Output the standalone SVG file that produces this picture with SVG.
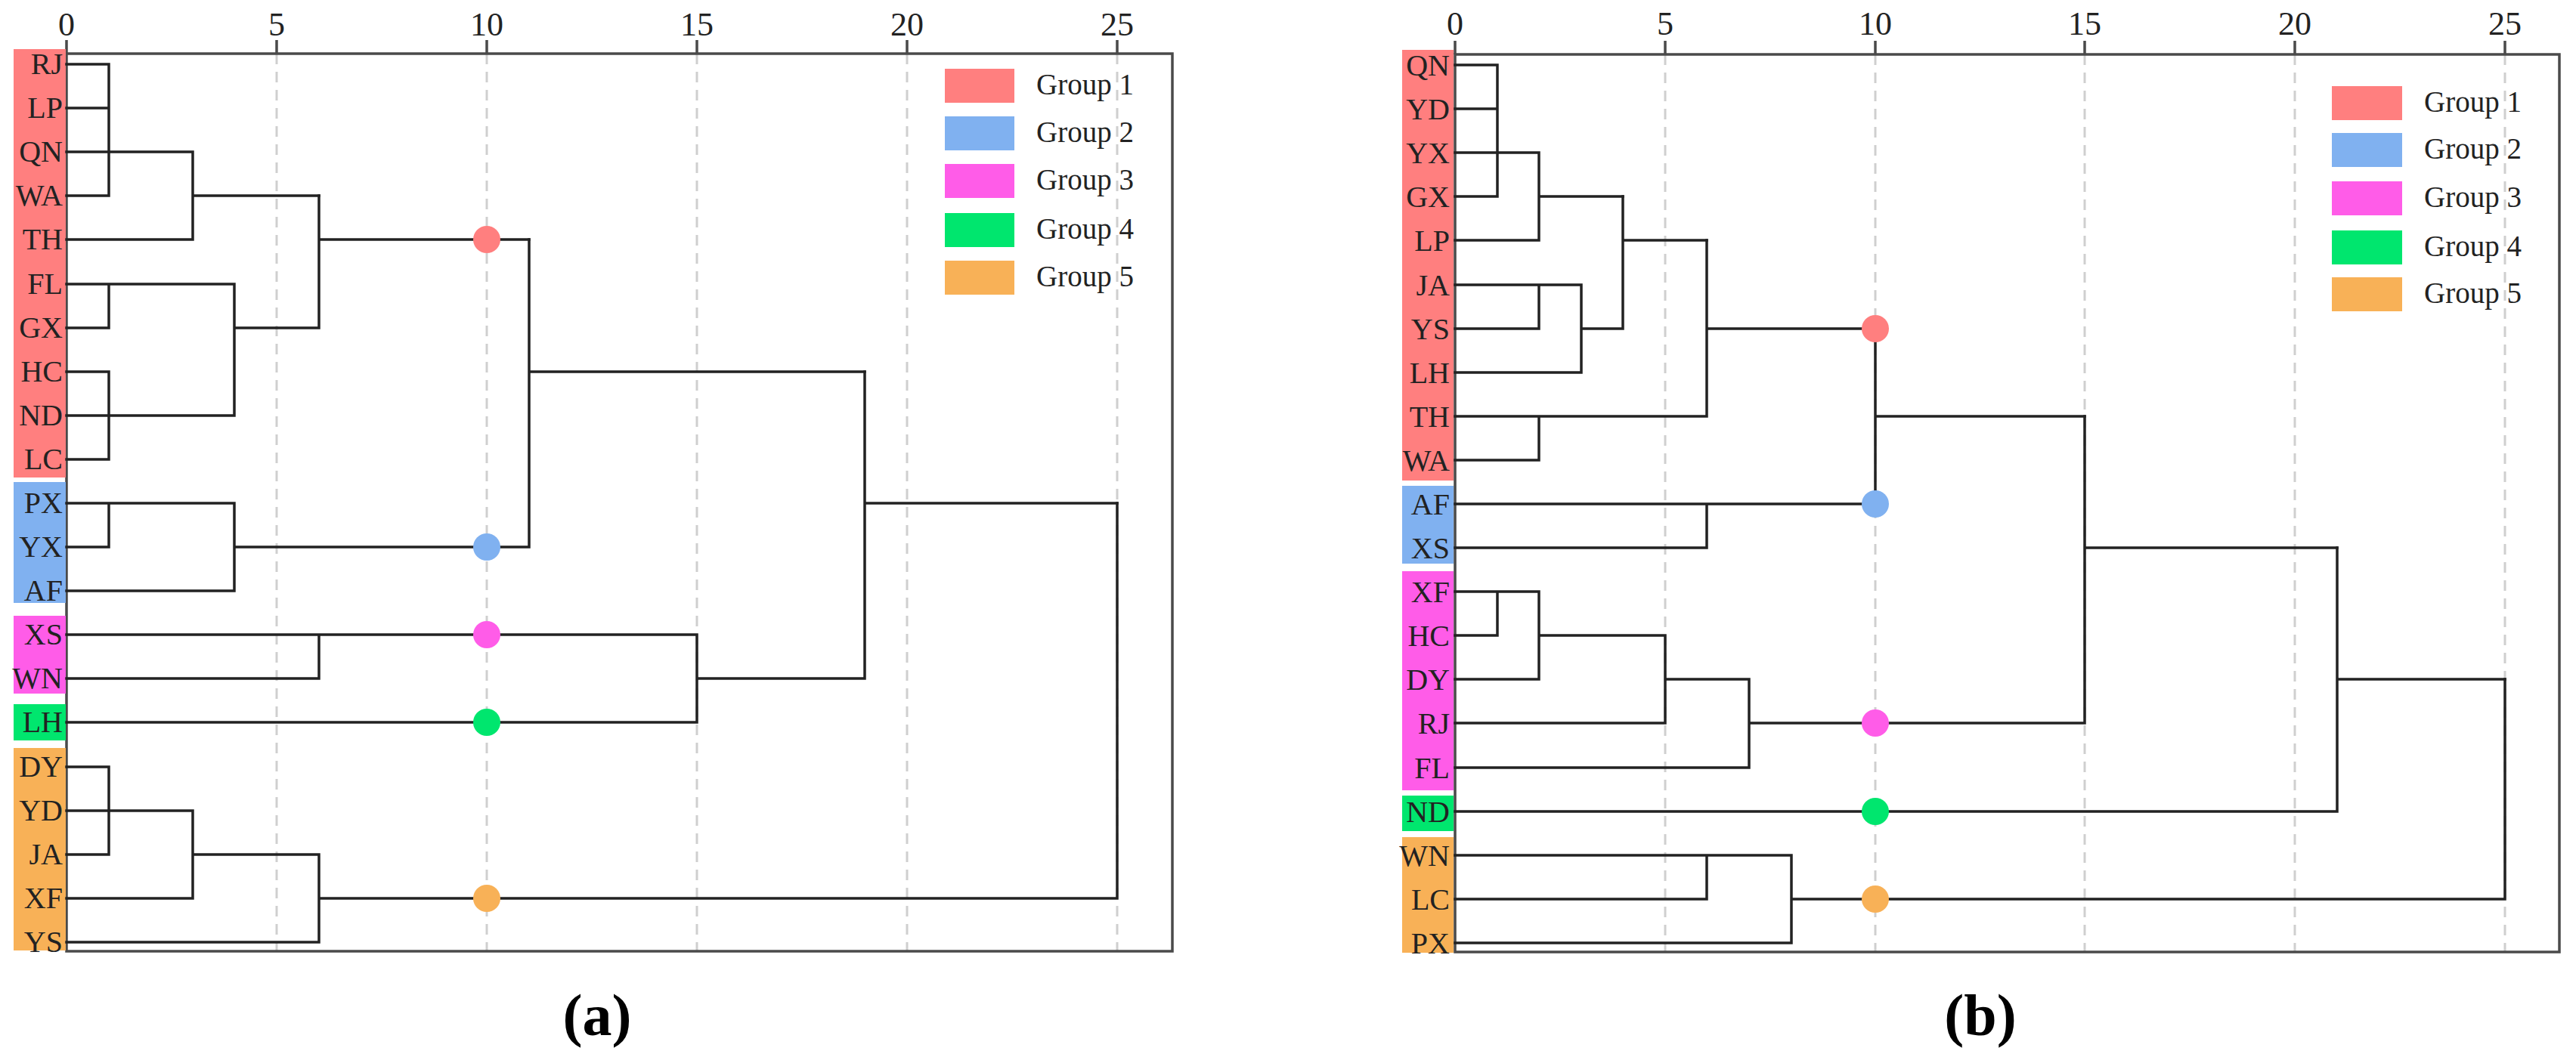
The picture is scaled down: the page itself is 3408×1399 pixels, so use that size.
<svg xmlns="http://www.w3.org/2000/svg" width="3408" height="1399" viewBox="0 0 3408 1399">
<style>
.bg{fill:#ffffff}
.frame{fill:none;stroke:#4a4a4a;stroke-width:3.5}
.grid{stroke:#cfcfcf;stroke-width:3;stroke-dasharray:14 10}
.den{fill:none;stroke:#222;stroke-width:3.5;stroke-linecap:square}
.tick{font-family:"Liberation Serif","Times New Roman",serif;font-size:44px;fill:#222;text-anchor:middle}
.lab{font-family:"Liberation Serif","Times New Roman",serif;font-size:40px;fill:#222;text-anchor:end}
.leg{font-family:"Liberation Serif","Times New Roman",serif;font-size:39px;fill:#222}
.cap{font-family:"Liberation Serif","Times New Roman",serif;font-size:78px;font-weight:bold;fill:#000;text-anchor:middle}
.g1{fill:#FF7F7F}.g2{fill:#80B1F0}.g3{fill:#FF5CE8}.g4{fill:#00E66E}.g5{fill:#F8B157}
</style>
<rect class="bg" x="0" y="0" width="3408" height="1399"/>

<!-- ================= Panel (a) ================= -->
<g id="panel-a">
  <g id="a-grid">
    <line class="grid" x1="366" y1="71" x2="366" y2="1259"/>
    <line class="grid" x1="644" y1="71" x2="644" y2="1259"/>
    <line class="grid" x1="922" y1="71" x2="922" y2="1259"/>
    <line class="grid" x1="1200" y1="71" x2="1200" y2="1259"/>
    <line class="grid" x1="1478" y1="71" x2="1478" y2="1259"/>
  </g>
  <g id="a-axis">
    <rect class="frame" x="88" y="71" width="1463" height="1188"/>
    <path class="frame" d="M88,53V71M366,53V71M644,53V71M922,53V71M1200,53V71M1478,53V71"/>
    <text class="tick" x="88" y="47">0</text>
    <text class="tick" x="366" y="47">5</text>
    <text class="tick" x="644" y="47">10</text>
    <text class="tick" x="922" y="47">15</text>
    <text class="tick" x="1200" y="47">20</text>
    <text class="tick" x="1478" y="47">25</text>
  </g>
  <g id="a-labels">
    <rect class="g1" x="18" y="65" width="69" height="567"/>
    <rect class="g2" x="18" y="638" width="69" height="160"/>
    <rect class="g3" x="18" y="815" width="69" height="103"/>
    <rect class="g4" x="18" y="932" width="69" height="48"/>
    <rect class="g5" x="18" y="990" width="69" height="268"/>
    <text class="lab" x="83" y="98">RJ</text>
    <text class="lab" x="83" y="156">LP</text>
    <text class="lab" x="83" y="214">QN</text>
    <text class="lab" x="83" y="272">WA</text>
    <text class="lab" x="83" y="330">TH</text>
    <text class="lab" x="83" y="389">FL</text>
    <text class="lab" x="83" y="447">GX</text>
    <text class="lab" x="83" y="505">HC</text>
    <text class="lab" x="83" y="563">ND</text>
    <text class="lab" x="83" y="621">LC</text>
    <text class="lab" x="83" y="679">PX</text>
    <text class="lab" x="83" y="737">YX</text>
    <text class="lab" x="83" y="795">AF</text>
    <text class="lab" x="83" y="853">XS</text>
    <text class="lab" x="83" y="911">WN</text>
    <text class="lab" x="83" y="969">LH</text>
    <text class="lab" x="83" y="1028">DY</text>
    <text class="lab" x="83" y="1086">YD</text>
    <text class="lab" x="83" y="1144">JA</text>
    <text class="lab" x="83" y="1202">XF</text>
    <text class="lab" x="83" y="1260">YS</text>
  </g>
  <g id="a-connectors">
    <path class="den" d="M88,85H144M88,143H144M88,259H144M144,85V259M88,201H255M88,317H255M255,201V317M255,259H422"/>
    <path class="den" d="M88,376H310M88,434H144M144,376V434M88,492H144M88,550H310M88,608H144M144,492V608M310,376V550M310,434H422M422,259V434M422,317H700"/>
    <path class="den" d="M88,666H310M88,724H144M144,666V724M88,782H310M310,666V782M310,724H700M700,317V724M700,492H1144"/>
    <path class="den" d="M88,840H922M88,898H422M422,840V898M88,956H922M922,840V956M922,898H1144M1144,492V898M1144,666H1478"/>
    <path class="den" d="M88,1015H144M88,1073H255M88,1131H144M144,1015V1131M88,1189H255M255,1073V1189M255,1131H422M88,1247H422M422,1131V1247M422,1189H1478M1478,666V1189"/>
  </g>
  <g id="a-nodes">
    <circle id="a-node-g1" class="g1" cx="644" cy="317" r="18"/>
    <circle id="a-node-g2" class="g2" cx="644" cy="724" r="18"/>
    <circle id="a-node-g3" class="g3" cx="644" cy="840" r="18"/>
    <circle id="a-node-g4" class="g4" cx="644" cy="956" r="18"/>
    <circle id="a-node-g5" class="g5" cx="644" cy="1189" r="18"/>
  </g>
  <g id="a-legend">
    <rect class="g1" x="1250" y="91" width="92" height="45"/>
    <rect class="g2" x="1250" y="154" width="92" height="45"/>
    <rect class="g3" x="1250" y="217" width="92" height="45"/>
    <rect class="g4" x="1250" y="282" width="92" height="45"/>
    <rect class="g5" x="1250" y="345" width="92" height="45"/>
    <text class="leg" x="1371" y="125">Group 1</text>
    <text class="leg" x="1371" y="188">Group 2</text>
    <text class="leg" x="1371" y="251">Group 3</text>
    <text class="leg" x="1371" y="316">Group 4</text>
    <text class="leg" x="1371" y="379">Group 5</text>
  </g>
  <text class="cap" x="790" y="1370">(a)</text>
</g>

<!-- ================= Panel (b) ================= -->
<g id="panel-b">
  <g id="b-grid">
    <line class="grid" x1="2203" y1="72" x2="2203" y2="1260"/>
    <line class="grid" x1="2481" y1="72" x2="2481" y2="1260"/>
    <line class="grid" x1="2758" y1="72" x2="2758" y2="1260"/>
    <line class="grid" x1="3036" y1="72" x2="3036" y2="1260"/>
    <line class="grid" x1="3314" y1="72" x2="3314" y2="1260"/>
  </g>
  <g id="b-axis">
    <rect class="frame" x="1925" y="72" width="1461" height="1188"/>
    <path class="frame" d="M1925,54V72M2203,54V72M2481,54V72M2758,54V72M3036,54V72M3314,54V72"/>
    <text class="tick" x="1925" y="46">0</text>
    <text class="tick" x="2203" y="46">5</text>
    <text class="tick" x="2481" y="46">10</text>
    <text class="tick" x="2758" y="46">15</text>
    <text class="tick" x="3036" y="46">20</text>
    <text class="tick" x="3314" y="46">25</text>
  </g>
  <g id="b-labels">
    <rect class="g1" x="1855" y="66" width="68" height="570"/>
    <rect class="g2" x="1855" y="643" width="68" height="103"/>
    <rect class="g3" x="1855" y="756" width="68" height="290"/>
    <rect class="g4" x="1855" y="1053" width="68" height="47"/>
    <rect class="g5" x="1855" y="1108" width="68" height="153"/>
    <text class="lab" x="1918" y="100">QN</text>
    <text class="lab" x="1918" y="158">YD</text>
    <text class="lab" x="1918" y="216">YX</text>
    <text class="lab" x="1918" y="274">GX</text>
    <text class="lab" x="1918" y="332">LP</text>
    <text class="lab" x="1918" y="391">JA</text>
    <text class="lab" x="1918" y="449">YS</text>
    <text class="lab" x="1918" y="507">LH</text>
    <text class="lab" x="1918" y="565">TH</text>
    <text class="lab" x="1918" y="623">WA</text>
    <text class="lab" x="1918" y="681">AF</text>
    <text class="lab" x="1918" y="739">XS</text>
    <text class="lab" x="1918" y="797">XF</text>
    <text class="lab" x="1918" y="855">HC</text>
    <text class="lab" x="1918" y="913">DY</text>
    <text class="lab" x="1918" y="971">RJ</text>
    <text class="lab" x="1918" y="1030">FL</text>
    <text class="lab" x="1918" y="1088">ND</text>
    <text class="lab" x="1918" y="1146">WN</text>
    <text class="lab" x="1918" y="1204">LC</text>
    <text class="lab" x="1918" y="1262">PX</text>
  </g>
  <g id="b-connectors">
    <path class="den" d="M1925,86H1981M1925,144H1981M1925,260H1981M1981,86V260M1925,202H2036M1925,318H2036M2036,202V318M2036,260H2147"/>
    <path class="den" d="M1925,377H2092M1925,435H2036M2036,377V435M1925,493H2092M2092,377V493M2092,435H2147M2147,260V435M2147,318H2258"/>
    <path class="den" d="M1925,551H2258M1925,609H2036M2036,551V609M2258,318V551M2258,435H2481"/>
    <path class="den" d="M1925,667H2481M1925,725H2258M2258,667V725M2481,435V667M2481,551H2758"/>
    <path class="den" d="M1925,783H2036M1925,841H1981M1981,783V841M1925,899H2036M2036,783V899M2036,841H2203M1925,957H2203M2203,841V957M2203,899H2314M1925,1016H2314M2314,899V1016M2314,957H2758M2758,551V957M2758,725H3092"/>
    <path class="den" d="M1925,1074H3092M3092,725V1074M3092,899H3314"/>
    <path class="den" d="M1925,1132H2370M1925,1190H2258M2258,1132V1190M1925,1248H2370M2370,1132V1248M2370,1190H3314M3314,899V1190"/>
  </g>
  <g id="b-nodes">
    <circle id="b-node-g1" class="g1" cx="2481" cy="435" r="18"/>
    <circle id="b-node-g2" class="g2" cx="2481" cy="667" r="18"/>
    <circle id="b-node-g3" class="g3" cx="2481" cy="957" r="18"/>
    <circle id="b-node-g4" class="g4" cx="2481" cy="1074" r="18"/>
    <circle id="b-node-g5" class="g5" cx="2481" cy="1190" r="18"/>
  </g>
  <g id="b-legend">
    <rect class="g1" x="3085" y="114" width="93" height="45"/>
    <rect class="g2" x="3085" y="176" width="93" height="45"/>
    <rect class="g3" x="3085" y="240" width="93" height="45"/>
    <rect class="g4" x="3085" y="305" width="93" height="45"/>
    <rect class="g5" x="3085" y="367" width="93" height="45"/>
    <text class="leg" x="3207" y="148">Group 1</text>
    <text class="leg" x="3207" y="210">Group 2</text>
    <text class="leg" x="3207" y="274">Group 3</text>
    <text class="leg" x="3207" y="339">Group 4</text>
    <text class="leg" x="3207" y="401">Group 5</text>
  </g>
  <text class="cap" x="2620" y="1370">(b)</text>
</g>
</svg>
